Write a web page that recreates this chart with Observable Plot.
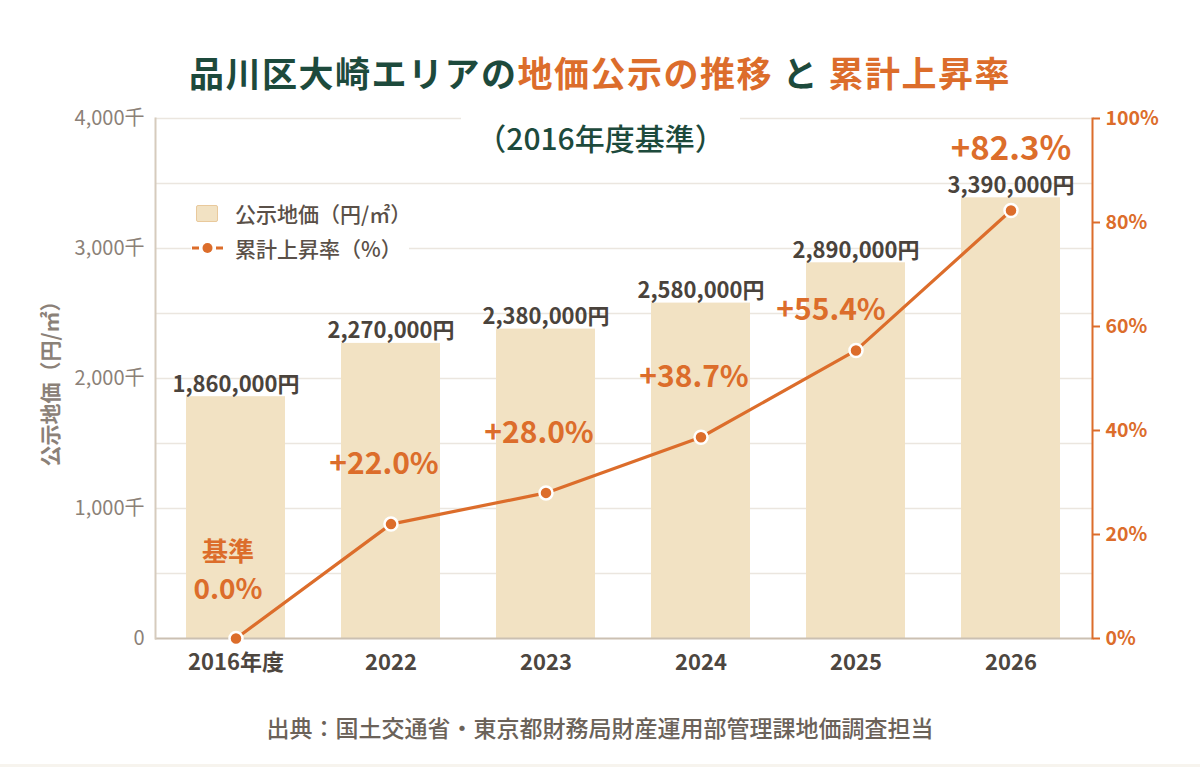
<!DOCTYPE html>
<html><head><meta charset="utf-8">
<script src="https://cdn.jsdelivr.net/npm/d3@7"></script>
<script src="https://cdn.jsdelivr.net/npm/@observablehq/plot@0.6"></script>
<style>
body{margin:0;background:#fff;font-family:"Noto Sans CJK JP","Noto Sans",sans-serif;width:1200px;height:767px;overflow:hidden;position:relative}
#title{height:100px;box-sizing:border-box;padding-top:50px;line-height:44px;text-align:center;font-size:35px;font-weight:700;color:#1d4a3c;letter-spacing:1.5px;white-space:nowrap}
#title .o{color:#dc6d2b}
#wrap{position:relative;width:1200px;height:600px}
#sub{position:absolute;left:461px;top:6px;width:279px;height:62px;background:#fff;display:flex;align-items:center;justify-content:center;font-size:30px;font-weight:500;color:#1d4a3c;white-space:nowrap}
#legend{position:absolute;left:191px;top:90px;width:218px;height:76px;background:#fff;color:#5a5048;font-size:21px;font-weight:500}
#legend .it{position:absolute;left:44px;line-height:28px;white-space:nowrap}
#legend .sw{position:absolute;left:5px;top:15px;width:20px;height:15px;background:#f2e2c3;border:1.5px solid #e9c99c;border-radius:2px}
#legend svg{position:absolute;left:0;top:50px}
#cap{text-align:center;font-size:23px;color:#6b6259;padding-top:11px;line-height:32px;font-weight:500;white-space:nowrap}
#strip{position:absolute;left:0;top:764px;width:1200px;height:3px;background:#f7f4ee}
</style></head>
<body>
<div id="title">品川区大崎エリアの<span class="o">地価公示の推移</span> と <span class="o">累計上昇率</span></div>
<div id="wrap">
  <div id="chart"></div>
  <div id="sub">（2016年度基準）</div>
  <div id="legend">
    <div class="sw"></div>
    <div class="it" style="top:9px">公示地価（円/㎡）</div>
    <svg width="34" height="16"><line x1="1" y1="8" x2="32" y2="8" stroke="#dc6d2b" stroke-width="3" stroke-dasharray="7,5"/><circle cx="16.5" cy="8" r="5" fill="#dc6d2b"/></svg>
    <div class="it" style="top:44px">累計上昇率（%）</div>
  </div>
</div>
<div id="cap">出典：国土交通省・東京都財務局財産運用部管理課地価調査担当</div>
<div id="strip"></div>
<script>
const years = ["2016年度", "2022", "2023", "2024", "2025", "2026"];
const prices = [1860000, 2270000, 2380000, 2580000, 2890000, 3390000];
const rates = [0.0, 22.0, 28.0, 38.7, 55.4, 82.3];
const leftTicks = [0, 1000000, 2000000, 3000000, 4000000];
const gridTicks = [500000, 1000000, 1500000, 2000000, 2500000, 3000000, 3500000, 4000000];
const rateTicks = [0, 20, 40, 60, 80, 100];

const orange = "#dc6d2b";
const yMax = 4000000;
const toY = r => r / 100 * yMax;
const rows = years.map((year, i) => ({year, price: prices[i], rate: rates[i]}));

const mid = rows.filter(d => d.rate > 0 && d.year !== "2025" && d.year !== "2026");
const r2025 = rows.filter(d => d.year === "2025");
const r2026 = rows.filter(d => d.year === "2026");
const base = rows.filter(d => d.rate === 0);
const pct = d => "+" + d.rate.toFixed(1) + "%";

const chart = Plot.plot({
  width: 1200, height: 600,
  marginTop: 18, marginBottom: 62, marginLeft: 155, marginRight: 108,
  style: {fontFamily: '"Noto Sans CJK JP", "Noto Sans", sans-serif', background: "transparent"},
  x: {domain: years, paddingInner: 0.36, paddingOuter: 0.2, axis: null},
  y: {domain: [0, yMax], axis: null},
  marks: [
    Plot.gridY(gridTicks, {stroke: "#ebe6df", strokeOpacity: 1, strokeWidth: 1.3}),
    Plot.barY(rows, {x: "year", y: "price", fill: "#f2e2c3"}),
    Plot.ruleY([0], {stroke: "#cbc0b2", strokeWidth: 2}),
    Plot.frame({anchor: "left", stroke: "#d6cbbd", strokeWidth: 2}),
    Plot.frame({anchor: "right", stroke: orange, strokeWidth: 2}),
    Plot.axisY(leftTicks, {anchor: "left", tickSize: 0, tickPadding: 11, fontSize: 20, fill: "#8b8178", label: null,
      tickFormat: d => d === 0 ? "0" : d3.format(",")(d / 1000) + "千"}),
    Plot.axisY({anchor: "left", ticks: [], label: "公示地価（円/㎡）", labelAnchor: "center", labelOffset: 112, labelArrow: "none",
      fontSize: 21, fontWeight: "bold", fill: "#8b8178"}),
    Plot.axisY(rateTicks.map(toY), {anchor: "right", tickSize: 7, tickPadding: 6, stroke: orange, strokeWidth: 2, fill: orange,
      fontSize: 19.5, fontWeight: 600, label: null, tickFormat: d => Math.round(d / yMax * 100) + "%"}),
    Plot.axisX({tickSize: 0, tickPadding: 16, fontSize: 22, fontWeight: "bold", fill: "#4d463f", label: null}),
    Plot.line(rows, {x: "year", y: d => toY(d.rate), stroke: orange, strokeWidth: 3.2}),
    Plot.dot(rows, {x: "year", y: d => toY(d.rate), r: 6.5, fill: orange, stroke: "white", strokeWidth: 2.5}),
    Plot.text(rows, {x: "year", y: "price", text: d => d3.format(",")(d.price) + "円", dy: -12,
      fontSize: 22, fontWeight: "bold", fill: "#4a433c"}),
    Plot.text(mid, {x: "year", y: d => toY(d.rate), text: pct, dy: -60, dx: -7,
      fontSize: 30, fontWeight: "bold", fill: orange}),
    Plot.text(r2025, {x: "year", y: d => toY(d.rate), text: pct, dy: -40, dx: -25,
      fontSize: 30, fontWeight: "bold", fill: orange}),
    Plot.text(r2026, {x: "year", y: d => toY(d.rate), text: pct, dy: -61, dx: 0,
      fontSize: 33, fontWeight: "bold", fill: orange}),
    Plot.text(base, {x: "year", y: d => toY(d.rate), text: d => d.rate.toFixed(1) + "%", dy: -48, dx: -8,
      fontSize: 28, fontWeight: "bold", fill: orange}),
    Plot.text(base, {x: "year", y: d => toY(d.rate), text: () => "基準", dy: -86, dx: -8,
      fontSize: 26, fontWeight: "bold", fill: orange})
  ]
});
document.getElementById("chart").appendChild(chart);
</script>
</body></html>
